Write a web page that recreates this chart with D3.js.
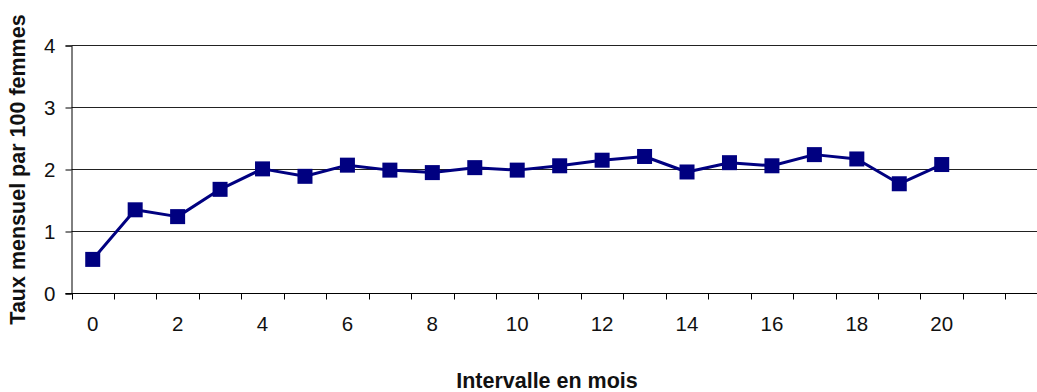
<!DOCTYPE html>
<html>
<head>
<meta charset="utf-8">
<script src="https://cdn.jsdelivr.net/npm/d3@7"></script>
<style>
  html, body { margin: 0; padding: 0; background: #fff; }
  svg { display: block; font-family: Arial, "Liberation Sans", sans-serif; }
</style>
</head>
<body>
<svg id="chart" width="1037" height="392"></svg>
<script>
// Monthly rate per 100 women by interval (months)
const months = d3.range(0, 23);            // category slots on the x axis
const dataMonths = d3.range(0, 21);        // months with an observed rate
const rates = [0.55, 1.35, 1.24, 1.68, 2.01, 1.89, 2.07, 1.99, 1.95, 2.03,
               1.99, 2.06, 2.15, 2.21, 1.96, 2.11, 2.06, 2.24, 2.17, 1.77, 2.08];
const xTickLabels = [0, 2, 4, 6, 8, 10, 12, 14, 16, 18, 20];
const yTicks = [0, 1, 2, 3, 4];

const svg = d3.select("#chart");
const W = 1037;
const plotLeft = 71.5, plotTop = 45.5, plotBottom = 293.5;
const step = 42.45;

const x = d3.scaleBand().domain(months).range([plotLeft, plotLeft + months.length * step]).padding(0);
const y = d3.scaleLinear().domain([0, 4]).range([plotBottom, plotTop]);

// horizontal gridlines
svg.append("g")
  .selectAll("line")
  .data(yTicks.filter(d => d > 0))
  .join("line")
  .attr("x1", plotLeft).attr("x2", W)
  .attr("y1", d => y(d)).attr("y2", d => y(d))
  .attr("stroke", "#222").attr("stroke-width", 1);

// y axis
const yAxis = svg.append("g")
  .attr("transform", `translate(${plotLeft},0)`)
  .call(d3.axisLeft(y).tickValues(yTicks).tickSize(6).tickPadding(10).tickFormat(d3.format("d")));
yAxis.select(".domain").attr("stroke", "#000");
yAxis.selectAll(".tick line").attr("stroke", "#000");
yAxis.selectAll("text")
  .attr("font-size", 20.5).attr("fill", "#111")
  .attr("font-family", "Arial, 'Liberation Sans', sans-serif");

// x axis: ticks at category boundaries, labels at every other category
svg.append("line")
  .attr("x1", plotLeft - 6).attr("x2", W)
  .attr("y1", plotBottom).attr("y2", plotBottom)
  .attr("stroke", "#000");
svg.append("g")
  .selectAll("line")
  .data(months)
  .join("line")
  .attr("x1", d => Math.round(x(d)) + 0.5).attr("x2", d => Math.round(x(d)) + 0.5)
  .attr("y1", plotBottom).attr("y2", plotBottom + 6)
  .attr("stroke", "#000");
svg.append("g")
  .selectAll("text")
  .data(xTickLabels)
  .join("text")
  .attr("x", d => x(d) + x.bandwidth() / 2)
  .attr("y", 331)
  .attr("text-anchor", "middle")
  .attr("font-size", 20.5).attr("fill", "#111")
  .text(d => d);

// series line
const points = dataMonths.map((m, i) => ({ m, v: rates[i] }));
const line = d3.line()
  .x(d => x(d.m) + x.bandwidth() / 2)
  .y(d => y(d.v));
svg.append("path")
  .datum(points)
  .attr("d", line)
  .attr("fill", "none")
  .attr("stroke", "#000080")
  .attr("stroke-width", 3)
  .attr("stroke-linejoin", "round");

// square markers
const ms = 15;
svg.append("g")
  .selectAll("rect")
  .data(points)
  .join("rect")
  .attr("x", d => x(d.m) + x.bandwidth() / 2 - ms / 2)
  .attr("y", d => y(d.v) - ms / 2)
  .attr("width", ms).attr("height", ms)
  .attr("fill", "#000080");

// axis titles
svg.append("text")
  .attr("x", 547).attr("y", 388)
  .attr("text-anchor", "middle")
  .attr("font-size", 21.5).attr("font-weight", "bold").attr("fill", "#111")
  .text("Intervalle en mois");

svg.append("text")
  .attr("transform", `translate(25,${(plotTop + plotBottom) / 2}) rotate(-90)`)
  .attr("text-anchor", "middle")
  .attr("font-size", 21.5).attr("font-weight", "bold").attr("fill", "#111")
  .text("Taux mensuel par 100 femmes");
</script>
</body>
</html>
